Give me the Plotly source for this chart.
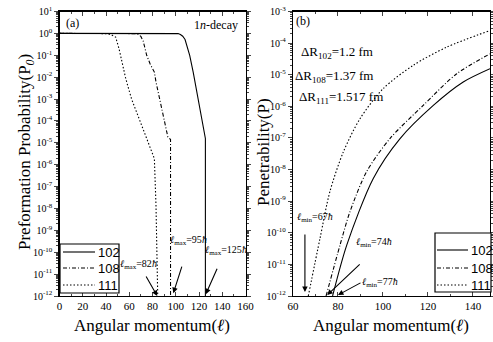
import numpy as np
import plotly.graph_objects as go

W, H = 493, 342

# ---------------- data ----------------
names = ["102", "108", "111"]

# Panel (a): angular momentum l and log10(P0)
a_l_102 = [0, 100, 102, 104, 106, 108, 110, 112, 115, 120, 125, 125.5, 125.5]
a_e_102 = [0, 0, -0.01, -0.05, -0.13, -0.28, -0.6, -1.0, -1.77, -3.25, -4.73, -4.8, -12]
a_l_108 = [0, 64, 66, 68, 70, 72, 75, 78, 81.6, 83, 88, 93.2, 95.5, 95.5]
a_e_108 = [0, 0, -0.01, -0.05, -0.14, -0.35, -1.0, -1.4, -1.77, -2.22, -3.45, -4.73, -4.85, -12]
a_l_111 = [0, 38, 40, 44, 48.3, 51.2, 57, 62, 68.5, 75, 81.6, 83, 84.5]
a_e_111 = [0, 0, -0.01, -0.05, -0.17, -0.7, -2.07, -3.0, -3.9, -4.8, -5.72, -7.85, -12]

# Panel (b): angular momentum l and log10(P)
b_l_102 = [77.6, 83.9, 95.7, 107.6, 122.4, 135.7, 147.6]
b_e_102 = [-12, -10.39, -8.28, -7.02, -5.97, -5.23, -4.81]
b_l_108 = [74.7, 80.9, 85.3, 92.7, 103.1, 117.9, 132.8, 147.6]
b_e_108 = [-12, -10.39, -9.34, -8.07, -7.02, -5.97, -4.97, -4.34]
b_l_111 = [66.8, 72, 76.4, 82.4, 89.8, 100.1, 113.5, 128.3, 147.6]
b_e_111 = [-12, -10.18, -8.7, -7.44, -6.39, -5.44, -4.7, -4.13, -3.6]

a_exp = list(range(-12, 2))
b_exp = list(range(-12, -2))

# ---------------- styling ----------------
SERIF = "Liberation Serif, Times New Roman, DejaVu Serif, serif"
SANS = "Liberation Sans, Arial, sans-serif"
DASHES = ["solid", "4px,2px,1px,2px", "1.5px,2px"]
LW = 1.1

fig = go.Figure()

for nm, ds, lx, ly in zip(names, DASHES, [a_l_102, a_l_108, a_l_111], [a_e_102, a_e_108, a_e_111]):
    fig.add_trace(go.Scatter(x=lx, y=10 ** np.array(ly, dtype=float), mode="lines", name=nm,
                             line=dict(color="black", width=LW, dash=ds),
                             xaxis="x", yaxis="y", showlegend=False))

for nm, ds, lx, ly in zip(names, DASHES, [b_l_102, b_l_108, b_l_111], [b_e_102, b_e_108, b_e_111]):
    fig.add_trace(go.Scatter(x=lx, y=10 ** np.array(ly, dtype=float), mode="lines", name=nm,
                             line=dict(color="black", width=LW, dash=ds, shape="spline", smoothing=0.8),
                             xaxis="x2", yaxis="y2", showlegend=False))

ydom = [(H - 296) / H, (H - 11.5) / H]


def xax(dom, rng, anchor):
    return dict(domain=dom, range=rng, anchor=anchor, dtick=20, tick0=0, ticks="inside", ticklen=4,
                tickwidth=1, minor=dict(dtick=10, tick0=0, ticks="inside", ticklen=2),
                showline=True, linecolor="black", linewidth=1.2, mirror="ticks", automargin=False,
                showgrid=False, zeroline=False, tickfont=dict(family=SERIF, size=11, color="black"))


def yax(exps, anchor):
    return dict(type="log", domain=ydom, range=[exps[0], exps[-1]], anchor=anchor,
                tickmode="array", tickvals=[10.0 ** k for k in exps],
                ticktext=["10<sup>%d</sup>" % k for k in exps],
                ticks="outside", ticklen=4, tickwidth=1, automargin=False,
                minor=dict(tickmode="array",
                           tickvals=[m * 10.0 ** k for k in exps[:-1] for m in range(2, 10)],
                           ticks="outside", ticklen=2),
                showline=True, linecolor="black", linewidth=1.2, mirror="ticks",
                showgrid=False, zeroline=False, tickfont=dict(family=SERIF, size=10, color="black"))


def P(x, y):
    return x / W, 1 - y / H


ann = []
shapes = []


def txt(x, y, t, size=12, xanchor="center", font=SERIF):
    px, py = P(x, y)
    ann.append(dict(x=px, y=py, xref="paper", yref="paper", text=t, showarrow=False,
                    xanchor=xanchor, yanchor="middle", font=dict(family=font, size=size, color="black")))


def arrow(xr, yr, x, ylog, ax, ay):
    ann.append(dict(x=x, y=ylog, xref=xr, yref=yr, ax=ax, ay=ay, text="", showarrow=True,
                    arrowhead=2, arrowsize=1, arrowwidth=1.1, arrowcolor="black", standoff=0))


def legend_box(x0, y0, x1, y1, rows, lx0, lx1, tx):
    a0, b0 = P(x0, y0)
    a1, b1 = P(x1, y1)
    shapes.append(dict(type="rect", xref="paper", yref="paper", x0=a0, y0=b1, x1=a1, y1=b0,
                       line=dict(color="black", width=1.2), fillcolor="white", layer="above"))
    for nm, ds, ry in zip(names, DASHES, rows):
        p0, q0 = P(lx0, ry)
        p1, _ = P(lx1, ry)
        shapes.append(dict(type="line", xref="paper", yref="paper", x0=p0, y0=q0, x1=p1, y1=q0,
                           line=dict(color="black", width=LW, dash=ds), layer="above"))
        txt(tx, ry, nm, size=13, xanchor="left", font=SANS)


# titles
px, py = P(13, 152)
ann.append(dict(x=px, y=py, xref="paper", yref="paper", textangle=-90, showarrow=False,
                text="Preformation Probability(P<sub><i>0</i></sub>)",
                font=dict(family=SERIF, size=17, color="black")))
px, py = P(263, 152)
ann.append(dict(x=px, y=py, xref="paper", yref="paper", textangle=-90, showarrow=False,
                text="Penetrability(P)", font=dict(family=SERIF, size=17, color="black")))
txt(152, 325, "Angular momentum(<i>ℓ</i>)", size=17)
txt(391, 325, "Angular momentum(<i>ℓ</i>)", size=17)

# panel labels
txt(72, 23, "(a)", size=12)
txt(303, 21, "(b)", size=12)
txt(216, 25, "1<i>n</i>-decay", size=12)
txt(299, 53, "ΔR<sub>102</sub>=1.2 fm", size=13, xanchor="left")
txt(293, 77, "ΔR<sub>108</sub>=1.37 fm", size=13, xanchor="left")
txt(297, 97, "ΔR<sub>111</sub>=1.517 fm", size=13, xanchor="left")

# l labels
txt(138, 264, "<i>ℓ</i><sub>max</sub>=82<i>ħ</i>", size=10)
txt(188, 240, "<i>ℓ</i><sub>max</sub>=95<i>ħ</i>", size=10)
txt(226, 250, "<i>ℓ</i><sub>max</sub>=125<i>ħ</i>", size=10)
txt(315, 217, "<i>ℓ</i><sub>min</sub>=67<i>ħ</i>", size=10)
txt(374, 242, "<i>ℓ</i><sub>min</sub>=74<i>ħ</i>", size=10)
txt(380, 282, "<i>ℓ</i><sub>min</sub>=77<i>ħ</i>", size=10)

# arrows
arrow("x", "y", 84.1, -12, -12, -21)
arrow("x", "y", 97.9, -11.87, 9, -28)
arrow("x", "y", 125.8, -11.92, 12, -27)
arrow("x2", "y2", 65.3, -11.87, 0, -59)
arrow("x2", "y2", 75.2, -11.97, 34, -32)
arrow("x2", "y2", 80.0, -11.97, 24, -13)

# legends
legend_box(60, 244, 119, 293, [252, 268, 285], 63, 95, 96)
legend_box(435, 233, 491, 292, [250, 268, 285], 437, 468, 469)

fig.update_layout(
    width=W, height=H, margin=dict(l=0, r=0, t=0, b=0, autoexpand=False),
    paper_bgcolor="white", plot_bgcolor="white",
    xaxis=xax([59.5 / W, 245.5 / W], [0, 160], "y"),
    yaxis=yax(a_exp, "x"),
    xaxis2=xax([293 / W, 490 / W], [60, 147.6], "y2"),
    yaxis2=yax(b_exp, "x2"),
    annotations=ann,
    shapes=shapes,
    showlegend=False,
    hovermode=False,
)

fig.write_html("out.html",
               config={"displayModeBar": False, "staticPlot": True},
               post_script="document.body.style.margin='0';document.body.style.padding='0';"
                           "document.body.style.overflow='hidden';")
